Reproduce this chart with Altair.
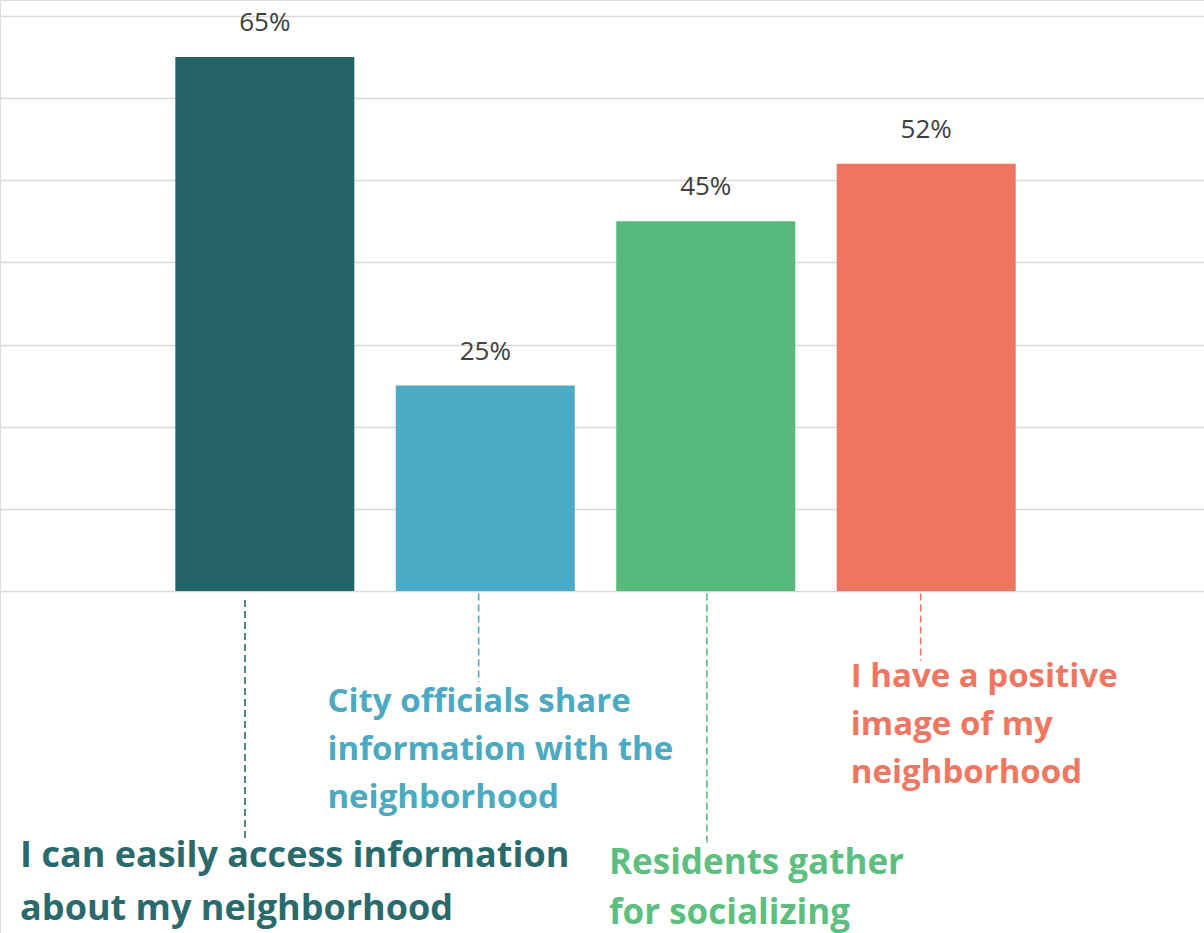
import altair as alt
import pandas as pd

# ---- data ----
categories = [
    "I can easily access information about my neighborhood",
    "City officials share information with the neighborhood",
    "Residents gather for socializing",
    "I have a positive image of my neighborhood",
]
values = [65, 25, 45, 52]
label_text = [
    "I can easily access information\nabout my neighborhood",
    "City officials share\ninformation with the\nneighborhood",
    "Residents gather\nfor socializing",
    "I have a positive\nimage of my\nneighborhood",
]
bar_colors = ["#246467", "#4BAAC6", "#58B97C", "#EE7560"]
text_colors = ["#2A6A6C", "#4BAAC2", "#5DBE7F", "#EF7761"]

# ---- annotation layout (bar-index units for x, percent units for y) ----
leader_dx = [-0.09, -0.03, 0.005, -0.025]
leader_top = [-1.1, -0.3, -0.3, -0.3]
leader_bottom = [-30.3, -11.1, -30.9, -8.5]
label_x = [-1.110, 0.284, 1.561, 2.658]
label_y = [-33.6, -14.7, -34.4, -11.7]
label_size = [36, 33, 35, 33]
label_line_height = [53, 48, 50, 48]

idx = list(range(len(categories)))
bars = pd.DataFrame({
    "idx": idx,
    "cat": categories,
    "value": values,
    "label": [f"{v}%" for v in values],
    "bcolor": bar_colors,
})
ann = pd.DataFrame({
    "idx": idx,
    "cat": categories,
    "lx": [i + d for i, d in zip(idx, leader_dx)],
    "ly1": leader_top,
    "ly2": leader_bottom,
    "tx": label_x,
    "ty": label_y,
    "text": label_text,
    "tcolor": text_colors,
})

xscale = alt.Scale(domain=[-1.1786, 4.2375], nice=False, zero=False)
yscale = alt.Scale(domain=[-41.63, 71.94], nice=False, zero=False)
yaxis = alt.Axis(values=[0, 10, 20, 30, 40, 50, 60, 70], grid=True,
                 labels=False, ticks=False, domain=False, title=None,
                 gridColor="#D9D9D9", gridWidth=1.5)

bar_layer = alt.Chart(bars).mark_bar(size=179).encode(
    x=alt.X("idx:Q", scale=xscale, axis=None),
    y=alt.Y("value:Q", scale=yscale, axis=yaxis),
    y2=alt.datum(0),
    color=alt.Color("bcolor:N", scale=None),
)

value_layer = alt.Chart(bars).mark_text(
    dy=-34, baseline="middle", font="Open Sans", fontSize=26, color="#404040"
).encode(
    x=alt.X("idx:Q", scale=xscale, axis=None),
    y=alt.Y("value:Q", scale=yscale, axis=yaxis),
    text="label:N",
)

leader_layer = alt.Chart(ann).mark_rule(strokeDash=[7, 4], strokeWidth=1.6).encode(
    x=alt.X("lx:Q", scale=xscale, axis=None),
    y=alt.Y("ly1:Q", scale=yscale, axis=yaxis),
    y2="ly2:Q",
    color=alt.Color("tcolor:N", scale=None),
)


def label_layer(i):
    return alt.Chart(ann).transform_filter(
        alt.datum.idx == i
    ).mark_text(
        align="left", baseline="alphabetic", font="Open Sans", fontWeight="bold",
        fontSize=label_size[i], lineBreak="\n", lineHeight=label_line_height[i],
    ).encode(
        x=alt.X("tx:Q", scale=xscale, axis=None),
        y=alt.Y("ty:Q", scale=yscale, axis=yaxis),
        text="text:N",
        color=alt.Color("tcolor:N", scale=None),
    )


chart = alt.layer(
    bar_layer, value_layer, leader_layer, *[label_layer(i) for i in idx]
).properties(
    width=1204, height=933, padding=0,
    autosize=alt.AutoSizeParams(type="none"),
).configure_view(stroke="transparent", strokeWidth=0).configure(background="white")

chart.save("out.html", embed_options={"renderer": "svg", "actions": False})
